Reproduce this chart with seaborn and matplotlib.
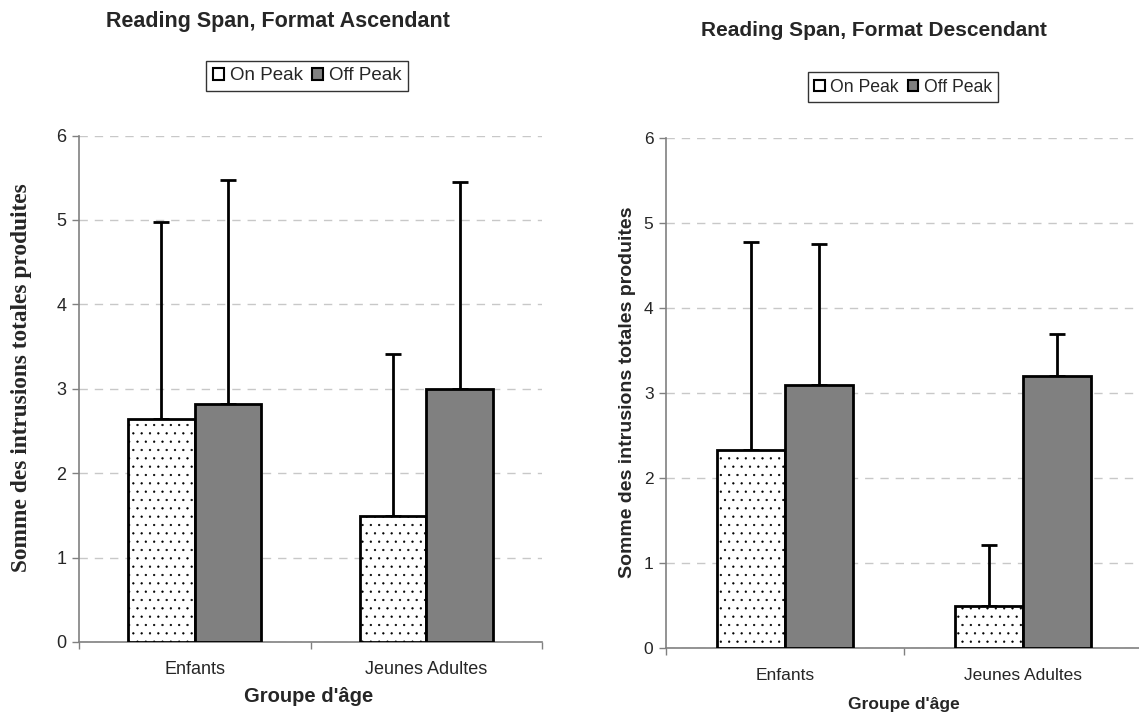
import matplotlib
matplotlib.use("Agg")
import matplotlib.pyplot as plt
import seaborn as sns
import pandas as pd
import numpy as np
from matplotlib.patches import Patch

# ---- data ----
groups = ["Enfants", "Jeunes Adultes"]
conditions = ["On Peak", "Off Peak"]
asc_on = [2.64, 1.49]
asc_off = [2.82, 3.00]
asc_on_err = [2.34, 1.92]
asc_off_err = [2.65, 2.45]
desc_on = [2.33, 0.50]
desc_off = [3.10, 3.20]
desc_on_err = [2.45, 0.71]
desc_off_err = [1.66, 0.50]
yticks = [0, 1, 2, 3, 4, 5, 6]

sns.set_theme(style="white")
plt.rcParams['font.family'] = ['Liberation Sans', 'DejaVu Sans']
plt.rcParams['hatch.linewidth'] = 0.4
plt.rcParams['hatch.color'] = 'black'

W, H = 1139, 715
fig = plt.figure(figsize=(W / 100, H / 100), dpi=100)
fig.patch.set_facecolor("white")


def px_axes(x0, x1, ytop, ybot):
    return fig.add_axes([x0 / W, 1 - ybot / H, (x1 - x0) / W, (ybot - ytop) / H])


def draw(ax, on, off, on_err, off_err, width, fs_tick):
    df = pd.DataFrame({
        "group": groups * 2,
        "cond": [conditions[0]] * 2 + [conditions[1]] * 2,
        "val": list(on) + list(off),
    })
    sns.barplot(data=df, x="group", y="val", hue="cond", order=groups,
                hue_order=conditions, palette={"On Peak": "white", "Off Peak": "#808080"},
                width=width, edgecolor="black", linewidth=2.0, saturation=1,
                errorbar=None, ax=ax, legend=False, zorder=3)
    bars = [p for p in ax.patches]
    errs = list(on_err) + list(off_err)
    vals = list(on) + list(off)
    for i, p in enumerate(bars[:4]):
        if i < 2:
            p.set_hatch('..')
        cx = p.get_x() + p.get_width() / 2
        ax.errorbar([cx], [vals[i]], yerr=[[0], [errs[i]]], fmt='none',
                    ecolor='black', elinewidth=2.0, capsize=6, capthick=2.0, zorder=2)
    ax.set_ylim(0, 6)
    ax.set_xlim(-0.5, 1.5)
    ax.set_yticks(yticks)
    ax.set_yticklabels([str(t) for t in yticks], fontsize=fs_tick)
    ax.yaxis.grid(True, linestyle=(0, (6, 5)), color="#c8c8c8", linewidth=1.0, zorder=0)
    ax.set_axisbelow(True)
    for s in ["top", "right"]:
        ax.spines[s].set_visible(False)
    for s in ["left", "bottom"]:
        ax.spines[s].set_color("#808080")
        ax.spines[s].set_linewidth(1.2)
    ax.tick_params(axis='y', which='major', length=5, width=1.0, color="#808080",
                   direction='out', left=True, pad=4)
    ax.set_xticks([0, 1])
    ax.set_xticklabels(groups, fontsize=fs_tick)
    ax.tick_params(axis='x', which='major', length=0, pad=14)
    ax.set_xticks([-0.5, 0.5, 1.5], minor=True)
    ax.tick_params(axis='x', which='minor', length=5, width=1.0, color="#808080",
                   direction='out', bottom=True)
    ax.set_xlabel("")
    ax.set_ylabel("")


axL = px_axes(79, 542, 135.5, 642)
draw(axL, asc_on, asc_off, asc_on_err, asc_off_err, 0.576, 13)
axR = px_axes(666, 1142, 138.3, 648.3)
draw(axR, desc_on, desc_off, desc_on_err, desc_off_err, 0.571, 12.5)

# titles
fig.text(278 / W, 1 - 21 / H, "Reading Span, Format Ascendant", ha="center", va="center",
         fontsize=15.5, fontweight="bold")
fig.text(874 / W, 1 - 30 / H, "Reading Span, Format Descendant", ha="center", va="center",
         fontsize=15, fontweight="bold")

# x labels
fig.text(309 / W, 1 - 697 / H, "Groupe d'âge", ha="center", va="center",
         fontsize=14.5, fontweight="bold")
fig.text(904 / W, 1 - 705 / H, "Groupe d'âge", ha="center", va="center",
         fontsize=12.5, fontweight="bold")

# y labels
fig.text(22 / W, 1 - 378 / H, "Somme des intrusions totales produites", ha="center", va="center",
         rotation=90, fontsize=16.8, fontweight="bold", family=["Liberation Serif", "DejaVu Serif"])
fig.text(627 / W, 1 - 392 / H, "Somme des intrusions totales produites", ha="center", va="center",
         rotation=90, fontsize=14, fontweight="bold")

# legends
def add_legend(cx, cy, fs):
    handles = [Patch(facecolor="white", edgecolor="black", linewidth=1.5, label=conditions[0]),
               Patch(facecolor="#808080", edgecolor="black", linewidth=1.5, label=conditions[1])]
    leg = fig.legend(handles=handles, loc="center", bbox_to_anchor=(cx / W, 1 - cy / H),
                     ncol=2, fontsize=fs, frameon=True, fancybox=False, handlelength=0.6,
                     handleheight=0.6, handletextpad=0.3, columnspacing=0.5,
                     borderpad=0.35, borderaxespad=0)
    leg.get_frame().set_edgecolor("black")
    leg.get_frame().set_linewidth(1.0)


add_legend(307, 76, 13.5)
add_legend(903, 87, 12.7)

fig.savefig("out.png", dpi=100, facecolor="white")
